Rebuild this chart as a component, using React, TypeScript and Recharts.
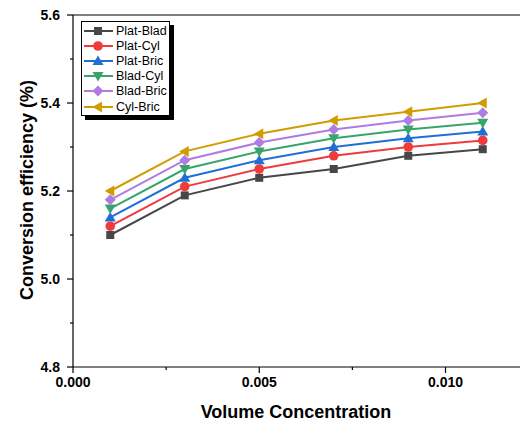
import React from "react";
import {
  LineChart,
  Line,
  XAxis,
  YAxis,
  Legend,
  ReferenceLine,
} from "recharts";

const concentration = [0.001, 0.003, 0.005, 0.007, 0.009, 0.011];

const platBlad = [5.1, 5.19, 5.23, 5.25, 5.28, 5.295];
const platCyl = [5.12, 5.21, 5.25, 5.28, 5.3, 5.315];
const platBric = [5.14, 5.23, 5.27, 5.3, 5.32, 5.335];
const bladCyl = [5.16, 5.25, 5.29, 5.32, 5.34, 5.355];
const bladBric = [5.18, 5.27, 5.31, 5.34, 5.36, 5.378];
const cylBric = [5.2, 5.29, 5.33, 5.36, 5.38, 5.4];

const yTicks = [4.8, 4.9, 5.0, 5.1, 5.2, 5.3, 5.4, 5.5, 5.6];
const xTicks = [0, 0.0025, 0.005, 0.0075, 0.01];

const FONT = "Arial, 'Liberation Sans', sans-serif";

const series = [
  { key: "platBlad", name: "Plat-Blad", color: "#474747", shape: "square", values: platBlad },
  { key: "platCyl", name: "Plat-Cyl", color: "#ef3b3b", shape: "circle", values: platCyl },
  { key: "platBric", name: "Plat-Bric", color: "#1f6fd6", shape: "up", values: platBric },
  { key: "bladCyl", name: "Blad-Cyl", color: "#37a56b", shape: "down", values: bladCyl },
  { key: "bladBric", name: "Blad-Bric", color: "#b07be2", shape: "diamond", values: bladBric },
  { key: "cylBric", name: "Cyl-Bric", color: "#d29c00", shape: "left", values: cylBric },
];

const data = concentration.map((x, i) => {
  const row: Record<string, number> = { x };
  series.forEach((s) => {
    row[s.key] = s.values[i];
  });
  return row;
});

// marker glyph centred on (cx, cy)
const Marker = ({ shape, cx, cy, color }: { shape: string; cx: number; cy: number; color: string }) => {
  switch (shape) {
    case "square":
      return <rect x={cx - 4} y={cy - 4} width={8} height={8} fill={color} />;
    case "circle":
      return <circle cx={cx} cy={cy} r={4.8} fill={color} />;
    case "up":
      return <polygon points={`${cx},${cy - 5.5} ${cx + 5.5},${cy + 4} ${cx - 5.5},${cy + 4}`} fill={color} />;
    case "down":
      return <polygon points={`${cx},${cy + 5.5} ${cx + 5.5},${cy - 4} ${cx - 5.5},${cy - 4}`} fill={color} />;
    case "diamond":
      return <polygon points={`${cx},${cy - 5.5} ${cx + 5.5},${cy} ${cx},${cy + 5.5} ${cx - 5.5},${cy}`} fill={color} />;
    default:
      return <polygon points={`${cx - 5.5},${cy} ${cx + 4},${cy - 5.5} ${cx + 4},${cy + 5.5}`} fill={color} />;
  }
};

const YTick = (props: any) => {
  const { x, y, payload } = props;
  const major = Math.round(payload.value * 10) % 2 === 0;
  const ax = x + 13;
  return (
    <g>
      <line x1={ax - (major ? 6 : 3)} x2={ax} y1={y} y2={y} stroke="#000" strokeWidth={1.2} />
      {major && (
        <text x={x} y={y} dy="0.36em" textAnchor="end" fontFamily={FONT} fontWeight="bold" fontSize={14} fill="#000">
          {payload.value.toFixed(1)}
        </text>
      )}
    </g>
  );
};

const XTick = (props: any) => {
  const { x, y, payload } = props;
  const major = Math.round(payload.value / 0.0025) % 2 === 0;
  const ay = y - 9;
  return (
    <g>
      <line x1={x} x2={x} y1={ay} y2={ay + (major ? 6 : 3)} stroke="#000" strokeWidth={1.2} />
      {major && (
        <text x={x} y={y} dy="0.75em" textAnchor="middle" fontFamily={FONT} fontWeight="bold" fontSize={14} fill="#000">
          {payload.value.toFixed(3)}
        </text>
      )}
    </g>
  );
};

const LegendBox = () => (
  <div
    style={{
      width: 89,
      boxSizing: "border-box",
      border: "1px solid #000",
      boxShadow: "4px 4px 0 #000",
      background: "#fff",
      padding: "1px 0",
      fontFamily: FONT,
      fontSize: 12.5,
      color: "#000",
    }}
  >
    {series.map((s) => (
      <div key={s.key} style={{ display: "flex", alignItems: "center", height: 15.2 }}>
        <svg width={33} height={14} style={{ flex: "none" }}>
          <line x1={2} x2={31} y1={7} y2={7} stroke={s.color} strokeWidth={2} />
          <Marker shape={s.shape} cx={16} cy={7} color={s.color} />
        </svg>
        <span style={{ marginLeft: 1, whiteSpace: "nowrap" }}>{s.name}</span>
      </div>
    ))}
  </div>
);

export default function App() {
  return (
    <div style={{ position: "absolute", left: 0, top: 0, width: 520, height: 425, background: "#fff" }}>
      <LineChart width={520} height={425} data={data} margin={{ top: 15, right: 0, bottom: 0, left: 0 }}>
        <XAxis
          dataKey="x"
          type="number"
          domain={[0, 0.012]}
          ticks={xTicks}
          tick={<XTick />}
          tickLine={false}
          tickSize={6}
          tickMargin={3}
          height={58}
          stroke="#000"
          strokeWidth={1.2}
          allowDataOverflow
          label={{
            content: () => (
              <text x={296} y={418} textAnchor="middle" fontFamily={FONT} fontWeight="bold" fontSize={18} fill="#000">
                Volume Concentration
              </text>
            ),
          }}
        />
        <YAxis
          type="number"
          domain={[4.8, 5.6]}
          ticks={yTicks}
          tick={<YTick />}
          tickLine={false}
          tickSize={6}
          tickMargin={7}
          width={73}
          stroke="#000"
          strokeWidth={1.2}
          allowDataOverflow
          label={{
            content: () => (
              <text
                transform="rotate(-90)"
                x={-190}
                y={33}
                textAnchor="middle"
                fontFamily={FONT}
                fontWeight="bold"
                fontSize={18}
                fill="#000"
              >
                Conversion efficiency (%)
              </text>
            ),
          }}
        />
        <ReferenceLine y={5.6} stroke="#000" strokeWidth={1.2} ifOverflow="visible" />
        {series.map((s) => (
          <Line
            key={s.key}
            dataKey={s.key}
            name={s.name}
            type="linear"
            stroke={s.color}
            strokeWidth={2}
            isAnimationActive={false}
            activeDot={false}
            dot={(p: any) => <Marker key={`${s.key}-${p.index}`} shape={s.shape} cx={p.cx} cy={p.cy} color={s.color} />}
          />
        ))}
        <Legend
          layout="vertical"
          align="center"
          verticalAlign="middle"
          content={<LegendBox />}
          wrapperStyle={{ left: 81, top: 21, width: 89, height: "auto" }}
        />
      </LineChart>
    </div>
  );
}
